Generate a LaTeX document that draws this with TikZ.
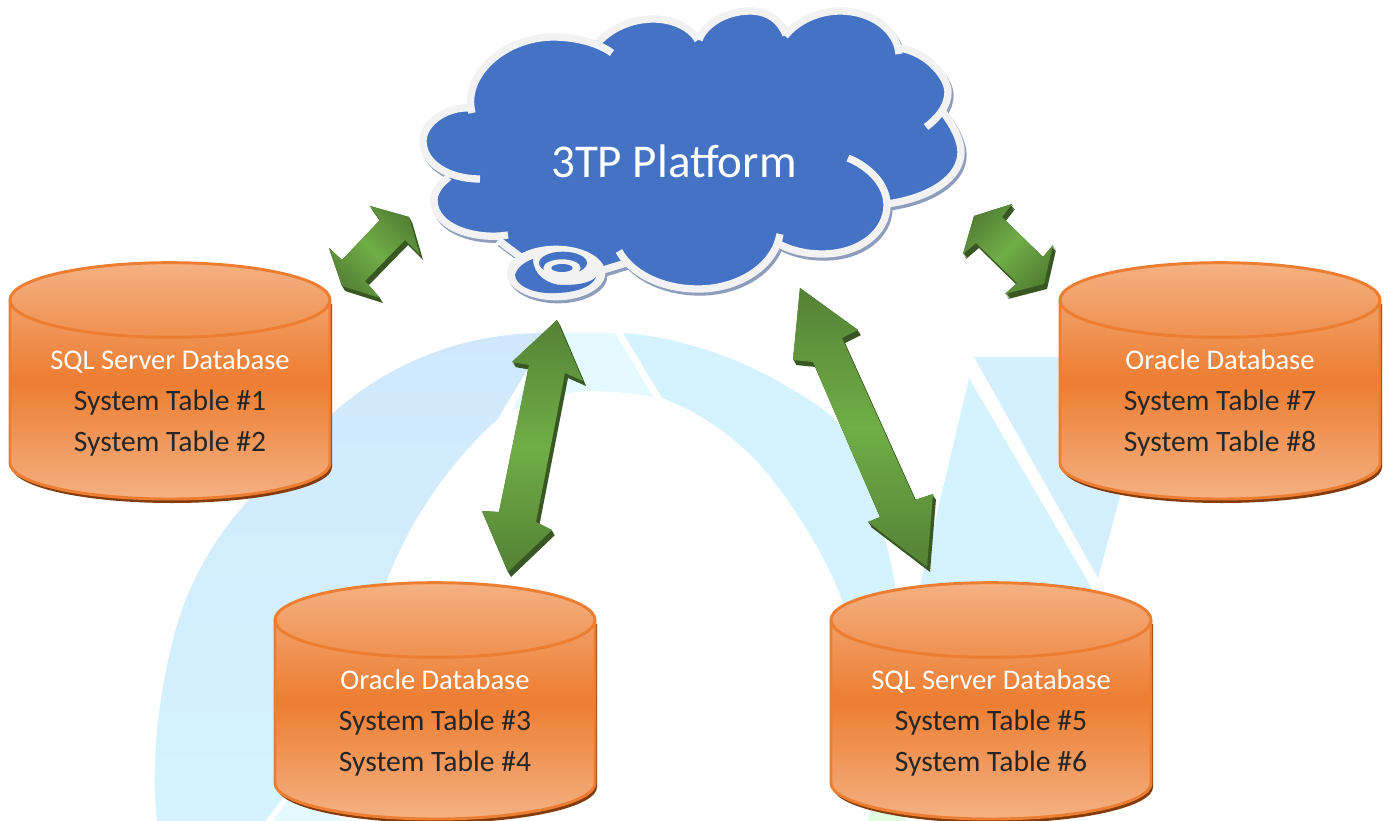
\documentclass[tikz,border=0pt]{standalone}
\usepackage{fontspec}
\setmainfont{Carlito}
\definecolor{cloudblue}{HTML}{4472C4}
\definecolor{cloudedge}{HTML}{F2F2F2}
\definecolor{cloudshadow}{HTML}{8E9DBB}
\definecolor{orangemid}{HTML}{ED7D31}
\definecolor{orangelight}{HTML}{F4B183}
\definecolor{orangedark}{HTML}{843C0C}
\definecolor{greenmid}{HTML}{70AD47}
\definecolor{greenend}{HTML}{548235}
\definecolor{greendark}{HTML}{385723}
\definecolor{wmblue}{HTML}{D1E8FC}
\definecolor{wmsky}{HTML}{D5F3FF}
\definecolor{wmcyan}{HTML}{E3FBFF}
\definecolor{wmgreen}{HTML}{DFFBE0}
\tikzset{
  x=0.75pt,y=-0.75pt,
  cloudline/.style={line width=5.5pt,draw=cloudedge,line cap=butt},
  shadowline/.style={line width=5.5pt,draw=cloudshadow,line cap=butt},
  cyltitle/.style={anchor=base,text=white,font=\fontsize{21.4}{24}\selectfont,inner sep=0pt},
  cylline/.style={anchor=base,text=black!85,font=\fontsize{22.2}{24}\selectfont,inner sep=0pt},
  cylbody/.style={top color=orangelight,bottom color=orangelight,middle color=orangemid},
  cylstroke/.style={draw=orangemid,line width=2.2pt},
}
% cloud lobes, in reference pixels
\def\lobeA{(480,179) .. controls (448,179) and (423,163) .. (423,141) .. controls (423,124) and (445,106) .. (472,108)}
\def\lobeB{(472,113) .. controls (462,75) and (505,37) .. (553,37) .. controls (578,37) and (600,44) .. (612,53)}
\def\lobeC{(597,44) .. controls (608,30) and (630,19) .. (653,19) .. controls (673,19) and (690,27) .. (698,40)}
\def\lobeD{(699,40) .. controls (704,25) and (725,11) .. (750,11) .. controls (768,11) and (780,20) .. (786,35)}
\def\lobeE{(785,36) .. controls (797,21) and (818,11) .. (840,11) .. controls (872,11) and (897,30) .. (899,54)}
\def\lobeF{(899,48) .. controls (928,52) and (948,78) .. (948,92) .. controls (948,106) and (938,118) .. (926,127)}
\def\lobeG{(943,112) .. controls (953,125) and (961,140) .. (961,152) .. controls (961,178) and (930,198) .. (887,204)}
\def\lobeH{(848,158) .. controls (870,167) and (887,185) .. (887,205) .. controls (887,232) and (860,254) .. (822,254) .. controls (805,254) and (790,250) .. (779,244)}
\def\lobeI{(780,234) .. controls (775,265) and (740,289) .. (698,289) .. controls (660,289) and (630,272) .. (619,251)}
\def\lobeJ{(626,263) -- (603,270)}
\def\lobeK{(522,258) -- (498,240)}
\def\lobeL{(508,235) .. controls (480,240) and (434,230) .. (434,200) .. controls (434,192) and (440,184) .. (449,177)}
\edef\bodypath{\lobeL -- \lobeA -- \lobeB -- \lobeC -- \lobeD -- \lobeE -- \lobeF -- \lobeG -- \lobeH -- \lobeI -- \lobeJ -- \lobeK -- cycle}
\newcommand{\allLobes}[1]{%
  \path[#1] \lobeA; \path[#1] \lobeB; \path[#1] \lobeC; \path[#1] \lobeD;
  \path[#1] \lobeE; \path[#1] \lobeF; \path[#1] \lobeG; \path[#1] \lobeH;
  \path[#1] \lobeI; \path[#1] \lobeJ; \path[#1] \lobeK; \path[#1] \lobeL;}
\newcommand{\dbcyl}[6]{%
  \begin{scope}[shift={(#2,#3)}]
    \fill[orangedark,shift={(2,4)}] (0,37) -- (0,200) arc[start angle=180,end angle=360,x radius=120pt,y radius=27pt] -- (320,37) -- cycle;
    \path[cylbody] (0,37) -- (0,200) arc[start angle=180,end angle=360,x radius=120pt,y radius=27pt] -- (320,37) arc[start angle=0,end angle=180,x radius=120pt,y radius=28pt] -- cycle;
    \draw[cylstroke] (0,37) -- (0,200) arc[start angle=180,end angle=360,x radius=120pt,y radius=27pt] -- (320,37) arc[start angle=0,end angle=180,x radius=120pt,y radius=28pt] -- cycle;
    \draw[cylstroke] (0,37) arc[start angle=180,end angle=360,x radius=120pt,y radius=28pt];
    \node[cyltitle] (#1title) at (160,106) {#4};
    \node[cylline] (#1one) at (160,147.5) {#5};
    \node[cylline] (#1two) at (160,188) {#6};
  \end{scope}}
% block arrow: #1 shading angle, #2 polygon
\newcommand{\blockarrow}[2]{%
  \foreach \s in {0,0.25,0.5,0.75,1}{\fill[greendark,shift={(3*\s,5*\s)}] #2 -- cycle;}
  \shade[top color=greenend,bottom color=greenend,middle color=greenmid,shading angle=#1] #2 -- cycle;}
\begin{document}
\begin{tikzpicture}
\useasboundingbox[fill=white] (0,0) rectangle (1389,821);
% watermark
\shade[top color=wmblue,bottom color=wmsky]
  (157,821) .. controls (150,760) and (160,690) .. (173,640)
  .. controls (185,590) and (210,545) .. (240,510)
  .. controls (270,475) and (300,440) .. (340,407)
  .. controls (390,365) and (460,333) .. (545,333)
  -- (527,370) -- (497,420)
  .. controls (460,452) and (425,500) .. (405,540)
  .. controls (395,560) and (388,575) .. (380,600)
  -- (345,760) -- (287,793) -- (265,821) -- cycle;
\fill[wmcyan] (545,333) -- (615,333) -- (653,397)
  .. controls (625,392) and (585,388) .. (560,395) -- (513,410) -- (530,372) -- cycle;
\fill[wmcyan] (273,821) -- (292,793) -- (345,821) -- cycle;
\fill[wmsky] (623,333) .. controls (680,337) and (740,358) .. (788,387)
  .. controls (815,403) and (832,412) .. (851,440)
  .. controls (865,465) and (888,540) .. (896,590)
  -- (848,620) -- (842,600)
  .. controls (830,565) and (795,505) .. (762,467)
  .. controls (735,437) and (700,412) .. (662,398) -- cycle;
\fill[wmsky] (969,378) -- (919,590) -- (1093,590) -- cycle;
\fill[wmblue!25!wmsky] (974,357) -- (1070,357) -- (1120,497) -- (1098,578) -- cycle;
\fill[wmgreen] (868,821) -- (871,808) -- (905,815) -- (905,821) -- cycle;
% arrows
\blockarrow{135}{(409,217) -- (420,255) -- (405,240) -- (365,281) -- (380,298) -- (342,286) -- (329,248) -- (342,260) -- (380,220) -- (370,206)}
\blockarrow{45}{(974,216) -- (1012,204) -- (1002,217) -- (1043,257) -- (1053,245) -- (1044,284) -- (1005,294) -- (1017,283) -- (976,243) -- (963,254)}
\blockarrow{0}{(557,320) -- (583,381) -- (565,373) -- (536,522) -- (552,530) -- (508,572) -- (482,511) -- (499,512) -- (529,365) -- (512,362)}
\blockarrow{0}{(800,288) -- (858,330) -- (842,338) -- (915,500) -- (933,494) -- (927,567) -- (868,522) -- (880,517) -- (813,362) -- (793,360)}
% cloud
\begin{scope}[shift={(2,3)}]
  \allLobes{shadowline}
  \fill[cloudshadow] (556,273) ellipse [x radius=37pt,y radius=20.5pt];
\end{scope}
\fill[cloudblue] \bodypath;
\allLobes{cloudline}
\fill[cloudedge] (556,273) ellipse [x radius=37pt,y radius=20.5pt];
\fill[cloudblue] (515,275) .. controls (517,268) and (524,262) .. (533,259)
  .. controls (533,275) and (548,285) .. (563,285)
  .. controls (578,285) and (590,283) .. (596,277)
  .. controls (592,288) and (572,294) .. (547,293)
  .. controls (530,292) and (516,285) .. (515,275) -- cycle;
\fill[cloudblue] (563,263) ellipse [x radius=18pt,y radius=8.5pt];
\fill[cloudedge] (562,268) ellipse [x radius=14pt,y radius=6.5pt];
\fill[cloudblue] (562,268) ellipse [x radius=8pt,y radius=3pt];
\node[anchor=base,text=white,font=\fontsize{35.3}{40}\selectfont,inner sep=0pt] (platform) at (674,177) {3TP Platform};
% databases
\dbcyl{dba}{10}{263}{SQL Server Database}{System Table \#1}{System Table \#2}
\dbcyl{dbb}{275}{583}{Oracle Database}{System Table \#3}{System Table \#4}
\dbcyl{dbc}{831}{583}{SQL Server Database}{System Table \#5}{System Table \#6}
\dbcyl{dbd}{1060}{263}{Oracle Database}{System Table \#7}{System Table \#8}
\end{tikzpicture}
\end{document}
